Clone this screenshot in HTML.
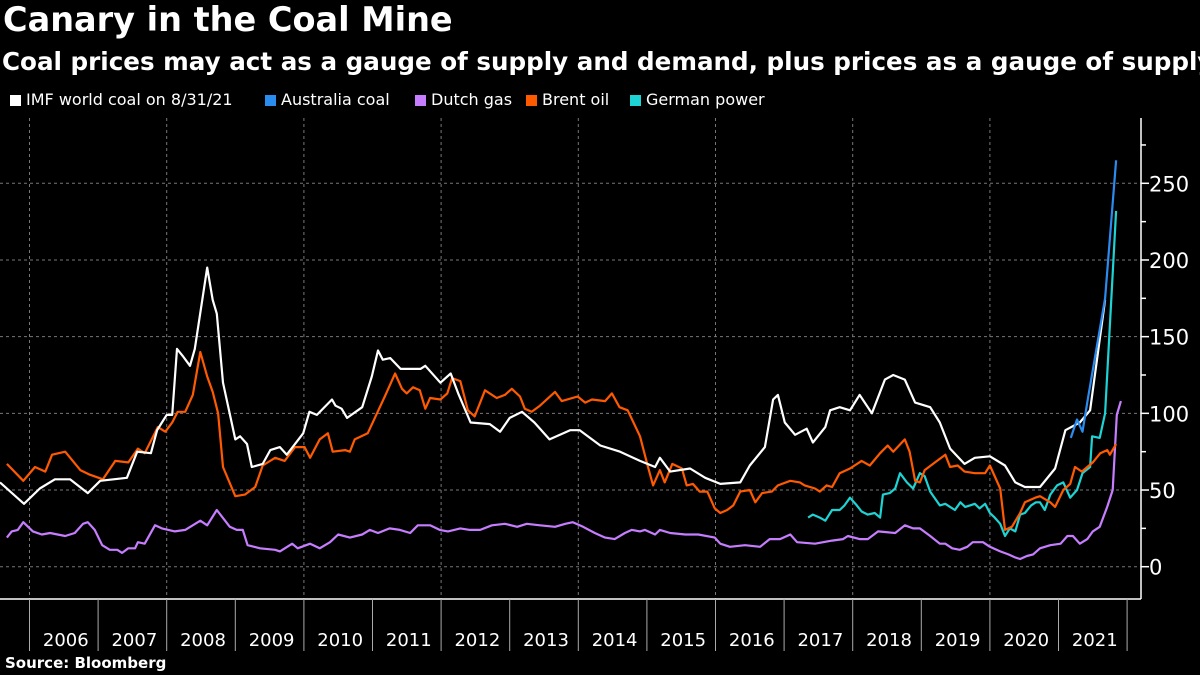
<!DOCTYPE html>
<html><head><meta charset="utf-8"><style>
html,body{margin:0;padding:0;background:#000;width:1200px;height:675px;overflow:hidden}
body{font-family:"DejaVu Sans","Liberation Sans",sans-serif;color:#fff;position:relative}
#title{position:absolute;left:3px;top:0px;font-size:33.5px;font-weight:bold;white-space:nowrap}
#subtitle{position:absolute;left:2px;top:47px;width:1198px;overflow:hidden;font-size:24.6px;font-weight:bold;white-space:nowrap}
.li{position:absolute;top:90px;font-size:16px;white-space:nowrap}
.sw{display:inline-block;width:11px;height:11px;margin-right:5px;vertical-align:-1px}
#source{position:absolute;left:5px;top:654px;font-size:15px;font-weight:bold}
svg{position:absolute;left:0;top:0}
</style></head><body>
<div id="title">Canary in the Coal Mine</div>
<div id="subtitle">Coal prices may act as a gauge of supply and demand, plus prices as a gauge of supply and demand</div>
<div>
<span class="li" style="left:10px"><span class="sw" style="background:#fff"></span>IMF world coal on 8/31/21</span>
<span class="li" style="left:265px"><span class="sw" style="background:#2b8cf0"></span>Australia coal</span>
<span class="li" style="left:415px"><span class="sw" style="background:#c77dff"></span>Dutch gas</span>
<span class="li" style="left:526px"><span class="sw" style="background:#ff5a00"></span>Brent oil</span>
<span class="li" style="left:630px"><span class="sw" style="background:#1ed3d3"></span>German power</span>
</div>
<div id="source">Source: Bloomberg</div>
<svg id="chart" width="1200" height="675"></svg>
<script>
const yTicks=[0,50,100,150,200,250];
const years=[2006,2007,2008,2009,2010,2011,2012,2013,2014,2015,2016,2017,2018,2019,2020,2021];
const coalDates=[2005.57,2005.92,2006.15,2006.37,2006.59,2006.85,2007.03,2007.42,2007.57,2007.77,2007.86,2007.93,2008.0,2008.08,2008.15,2008.24,2008.34,2008.41,2008.59,2008.67,2008.73,2008.82,2009.0,2009.07,2009.17,2009.24,2009.4,2009.51,2009.65,2009.75,2009.99,2010.08,2010.19,2010.41,2010.46,2010.55,2010.63,2010.85,2010.99,2011.08,2011.15,2011.26,2011.41,2011.7,2011.77,2011.99,2012.14,2012.25,2012.43,2012.71,2012.86,2013.0,2013.18,2013.36,2013.58,2013.88,2014.02,2014.32,2014.61,2014.9,2015.12,2015.19,2015.34,2015.63,2015.85,2016.07,2016.36,2016.5,2016.72,2016.84,2016.91,2017.01,2017.16,2017.33,2017.42,2017.6,2017.67,2017.81,2017.96,2018.1,2018.28,2018.47,2018.59,2018.76,2018.91,2019.13,2019.27,2019.42,2019.63,2019.78,2020.0,2020.22,2020.37,2020.51,2020.73,2020.95,2021.1,2021.31,2021.46,2021.68];
const coalValues=[55,41,51,57,57,48,56,58,75,74,89,94,99,99,142,137,131,142,195,174,165,120,83,85,80,65,67,76,78,73,87,101,99,109,105,103,97,104,124,141,135,136,129,129,131,120,126,113,94,93,88,97,101,94,83,89,89,79,75,69,65,71,62,64,58,54,55,66,78,109,112,94,86,90,81,91,102,104,102,112,100,122,125,122,107,104,94,77,67,71,72,66,55,52,52,64,89,94,102,174];
const ausDates=[2021.18,2021.27,2021.35,2021.43,2021.68,2021.84];
const ausValues=[84,96,88,110,175,265];
const gasDates=[2005.67,2005.74,2005.83,2005.91,2006.05,2006.18,2006.3,2006.52,2006.66,2006.78,2006.85,2006.95,2007.06,2007.17,2007.28,2007.35,2007.44,2007.54,2007.58,2007.68,2007.83,2007.93,2008.12,2008.27,2008.49,2008.59,2008.73,2008.92,2009.02,2009.11,2009.18,2009.36,2009.58,2009.65,2009.83,2009.91,2010.09,2010.23,2010.38,2010.5,2010.67,2010.85,2010.96,2011.08,2011.25,2011.4,2011.55,2011.66,2011.84,2011.98,2012.1,2012.28,2012.42,2012.57,2012.74,2012.93,2013.11,2013.25,2013.44,2013.66,2013.81,2013.92,2014.07,2014.24,2014.39,2014.53,2014.68,2014.78,2014.9,2014.97,2015.12,2015.19,2015.34,2015.56,2015.75,2015.99,2016.07,2016.21,2016.43,2016.65,2016.79,2016.94,2017.09,2017.19,2017.45,2017.7,2017.86,2017.93,2018.1,2018.22,2018.37,2018.62,2018.76,2018.88,2018.98,2019.13,2019.27,2019.35,2019.45,2019.56,2019.67,2019.75,2019.9,2020.0,2020.15,2020.27,2020.37,2020.44,2020.54,2020.63,2020.73,2020.88,2021.03,2021.13,2021.21,2021.31,2021.42,2021.5,2021.6,2021.71,2021.79,2021.85,2021.91];
const gasValues=[19,23,24,29,23,21,22,20,22,28,29,24,14,11,11,9,12,12,16,15,27,25,23,24,30,27,37,26,24,24,14,12,11,10,15,12,15,12,16,21,19,21,24,22,25,24,22,27,27,24,23,25,24,24,27,28,26,28,27,26,28,29,26,22,19,18,22,24,23,24,21,24,22,21,21,19,15,13,14,13,18,18,21,16,15,17,18,20,18,18,23,22,27,25,25,20,15,15,12,11,13,16,16,13,10,8,6,5,7,8,12,14,15,20,20,15,18,23,26,39,50,99,108];
const oilDates=[2005.67,2005.91,2006.08,2006.23,2006.33,2006.52,2006.74,2006.88,2007.07,2007.25,2007.44,2007.58,2007.68,2007.87,2007.98,2008.08,2008.16,2008.27,2008.38,2008.49,2008.59,2008.67,2008.75,2008.82,2009.0,2009.14,2009.29,2009.4,2009.58,2009.72,2009.87,2010.01,2010.09,2010.23,2010.35,2010.42,2010.6,2010.67,2010.74,2010.93,2011.18,2011.33,2011.43,2011.5,2011.59,2011.69,2011.77,2011.84,2011.99,2012.09,2012.16,2012.28,2012.39,2012.49,2012.64,2012.81,2012.93,2013.03,2013.15,2013.22,2013.32,2013.44,2013.66,2013.76,2013.99,2014.1,2014.2,2014.39,2014.49,2014.6,2014.72,2014.9,2015.01,2015.09,2015.19,2015.26,2015.37,2015.51,2015.58,2015.67,2015.77,2015.88,2015.99,2016.07,2016.17,2016.26,2016.36,2016.5,2016.58,2016.68,2016.82,2016.91,2017.09,2017.23,2017.3,2017.45,2017.52,2017.62,2017.7,2017.81,2017.96,2018.13,2018.25,2018.4,2018.51,2018.59,2018.76,2018.83,2018.91,2018.98,2019.05,2019.2,2019.35,2019.42,2019.53,2019.63,2019.78,2019.93,2020.0,2020.15,2020.22,2020.32,2020.44,2020.51,2020.66,2020.73,2020.88,2020.95,2021.07,2021.17,2021.24,2021.34,2021.5,2021.61,2021.71,2021.75,2021.84];
const oilValues=[67,56,65,62,73,75,63,60,57,69,68,77,74,91,88,94,101,101,112,140,124,114,100,65,46,47,52,66,71,69,78,78,71,83,87,75,76,75,83,87,111,126,116,113,117,115,103,110,109,113,123,121,102,98,115,110,112,116,111,103,101,105,114,108,111,107,109,108,113,104,102,85,66,53,63,55,67,64,53,54,49,49,38,35,37,40,49,50,42,48,49,53,56,55,53,51,49,53,52,61,64,69,66,74,79,75,83,75,56,55,63,68,73,65,66,62,61,61,66,51,24,26,35,42,45,46,42,39,50,54,65,62,68,74,76,73,80];
const powerDates=[2017.35,2017.42,2017.52,2017.6,2017.7,2017.81,2017.88,2017.96,2018.06,2018.13,2018.22,2018.32,2018.4,2018.44,2018.54,2018.62,2018.69,2018.79,2018.88,2018.98,2019.05,2019.13,2019.27,2019.35,2019.42,2019.49,2019.57,2019.64,2019.71,2019.78,2019.85,2019.93,2020.0,2020.07,2020.15,2020.22,2020.29,2020.37,2020.44,2020.51,2020.6,2020.67,2020.73,2020.8,2020.88,2020.98,2021.07,2021.17,2021.27,2021.35,2021.46,2021.49,2021.6,2021.68,2021.84];
const powerValues=[32,34,32,30,37,37,40,45,40,36,34,35,32,47,48,51,61,55,51,61,59,49,40,41,39,37,42,39,40,41,38,41,35,32,28,20,25,23,34,35,40,42,42,37,47,53,55,45,50,61,65,85,84,100,232];

const NS='http://www.w3.org/2000/svg';
const svg=document.getElementById('chart');
const X0=29.5, XW=68.6, Y0=566.7, YK=1.5336, AXX=1141, AXB=599, TOP=118;
function xs(t){return X0+(t-2006)*XW;}
function ys(v){return Y0-v*YK;}
function mk(tag,attrs){const e=document.createElementNS(NS,tag);for(const k in attrs)e.setAttribute(k,attrs[k]);svg.appendChild(e);return e;}

yTicks.forEach(v=>{
  const g=mk('line',{x1:0,x2:AXX,y1:ys(v),y2:ys(v),stroke:'#777','stroke-width':1,'stroke-dasharray':'3,3'});
  
  
  const t=mk('line',{x1:AXX,x2:AXX+8,y1:ys(v),y2:ys(v),stroke:'#fff','stroke-width':1.5});
  
  
  const l=mk('text',{x:AXX+8,y:ys(v)+8,fill:'#fff','font-size':21,'font-family':'DejaVu Sans, sans-serif'});
  l.textContent=v;
  
  
});
for(let v=25;v<=275;v+=50){
  const t=mk('line',{x1:AXX,x2:AXX+5,y1:ys(v),y2:ys(v),stroke:'#fff','stroke-width':1.5});
  
  
}
for(let yr=2006;yr<=2020;yr+=2){
  const g=mk('line',{x1:xs(yr),x2:xs(yr),y1:TOP,y2:AXB,stroke:'#777','stroke-width':1,'stroke-dasharray':'3,3'});
  
  
}
const ya=mk('line',{x1:AXX,x2:AXX,y1:TOP,y2:AXB,stroke:'#fff','stroke-width':1.5});


const xa=mk('line',{x1:0,x2:AXX,y1:AXB,y2:AXB,stroke:'#fff','stroke-width':1.5});


years.forEach(yr=>{
  const t=mk('line',{x1:xs(yr),x2:xs(yr),y1:AXB,y2:651,stroke:'#aaa','stroke-width':1});
  
  
  const l=mk('text',{x:xs(yr+0.5)+2,y:646,fill:'#fff','font-size':18,'text-anchor':'middle','font-family':'DejaVu Sans, sans-serif'});
  l.textContent=yr;
  
  
});
const tEnd=mk('line',{x1:xs(2022),x2:xs(2022),y1:AXB,y2:651,stroke:'#aaa','stroke-width':1});



function series(d,v,color,name){
  const pts=d.map((t,i)=>xs(t).toFixed(1)+','+ys(v[i]).toFixed(1)).join(' ');
  const p=mk('polyline',{points:pts,fill:'none',stroke:color,'stroke-width':2.2,'stroke-linejoin':'round'});
  
  
}
series(gasDates,gasValues,'#c77dff','line-dutch-gas');
series(powerDates,powerValues,'#1ed3d3','line-german-power');
series(oilDates,oilValues,'#ff5a00','line-brent-oil');
series(coalDates,coalValues,'#ffffff','line-imf-coal');
series(ausDates,ausValues,'#2b8cf0','line-australia-coal');
</script>
</body></html>
